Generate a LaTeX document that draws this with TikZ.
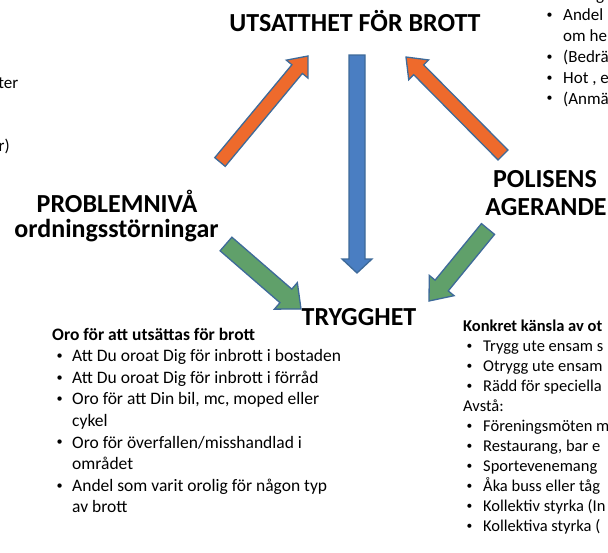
\documentclass[tikz,border=0pt]{standalone}
\usepackage{fontspec}
\usepackage{graphicx}
\setmainfont{Carlito}
\usetikzlibrary{calc}
\definecolor{orangeF}{HTML}{EE6A2C}
\definecolor{blueF}{HTML}{4A7EC2}
\definecolor{greenF}{HTML}{60A06A}
\definecolor{outlineC}{HTML}{3E6A99}
\newcommand\myblockarrow[6]{%
  \coordinate (#2-hb) at ($(#2)!#5!(#1)$);
  \draw[#6] ($(#1)!#3!90:(#2)$) -- ($(#2-hb)!#3!90:(#2)$) -- ($(#2-hb)!#4!90:(#2)$) -- (#2)
    -- ($(#2-hb)!#4!-90:(#2)$) -- ($(#2-hb)!#3!-90:(#2)$) -- ($(#1)!#3!-90:(#2)$) -- cycle;}
\newcommand\bul[1]{\makebox[#1][l]{\hspace{1.5pt}\raisebox{0.12em}{\scalebox{0.7}{•}}}}
\tikzset{
  blk/.style={draw=outlineC, line width=1.3pt, line join=miter},
  headtxt/.style={anchor=base, inner sep=0pt, font=\fontsize{26}{26}\selectfont\bfseries},
  ltxt/.style={anchor=base west, inner sep=0pt, font=\fontsize{17.5}{21}\selectfont},
  rtxt/.style={anchor=base west, inner sep=0pt, font=\fontsize{16.5}{20}\selectfont},
  ttxt/.style={anchor=base west, inner sep=0pt, font=\fontsize{17}{20}\selectfont},
}
\begin{document}
\begin{tikzpicture}[x=1pt,y=1pt]
\fill[white] (0,0) rectangle (608,-552);
\useasboundingbox (0,0) rectangle (608,-552);

% headings
\node[headtxt] (utsatt) at (355,-31.5) {UTSATTHET FÖR BROTT};
\node[headtxt] (prob1) at (117,-212) {PROBLEMNIVÅ};
\node[headtxt] (prob2) at (116.5,-237) {ordningsstörningar};
\node[headtxt] (pol1) at (545,-187) {POLISENS};
\node[headtxt] (pol2) at (546,-215) {AGERANDE};
\node[headtxt] (trygg) at (359,-325) {TRYGGHET};

% arrow end points
\coordinate (bT) at (357,-55);   \coordinate (bP) at (357,-273);
\coordinate (oLT) at (220,-162); \coordinate (oLP) at (308,-56);
\coordinate (oRT) at (503,-155); \coordinate (oRP) at (406,-57);
\coordinate (gLT) at (226,-244); \coordinate (gLP) at (301,-309);
\coordinate (gRT) at (488,-229); \coordinate (gRP) at (429,-301);

\myblockarrow{bT}{bP}{8pt}{15pt}{14pt}{blk, fill=blueF}
\myblockarrow{oLT}{oLP}{6.8pt}{14pt}{17pt}{blk, fill=orangeF}
\myblockarrow{oRT}{oRP}{7pt}{14pt}{18pt}{blk, fill=orangeF}
\myblockarrow{gLT}{gLP}{9pt}{17.5pt}{20pt}{blk, fill=greenF}
\myblockarrow{gRT}{gRP}{8.5pt}{16pt}{20pt}{blk, fill=greenF}

% left edge fragments
\node[ttxt, anchor=base east] (le1) at (18.5,-88.5) {ter};
\node[ttxt, anchor=base east] (le2) at (10,-151) {r)};

% top right list (cut by page edge)
\node[ttxt] (tg) at (596,-0.5) {g};
\node[ttxt] (t1) at (545,-20.5) {\bul{18pt}Andel};
\node[ttxt] (t2) at (563,-41.5) {om he};
\node[ttxt] (t3) at (545,-62.5) {\bul{18pt}(Bedrä};
\node[ttxt] (t4) at (545,-83.5) {\bul{18pt}Hot , e};
\node[ttxt] (t5) at (545,-104) {\bul{18pt}(Anmä};

% left bottom list
\node[ltxt, font=\fontsize{17.5}{21}\selectfont\bfseries] (l0) at (52,-340) {Oro för att utsättas för brott};
\node[ltxt] (l1) at (55,-361.6) {\bul{17pt}Att Du oroat Dig för inbrott i bostaden};
\node[ltxt] (l2) at (55,-383.2) {\bul{17pt}Att Du oroat Dig för inbrott i förråd};
\node[ltxt] (l3) at (55,-404.8) {\bul{17pt}Oro för att Din bil, mc, moped eller};
\node[ltxt] (l4) at (72,-426.4) {cykel};
\node[ltxt] (l5) at (55,-448) {\bul{17pt}Oro för överfallen/misshandlad i};
\node[ltxt] (l6) at (72,-469.6) {området};
\node[ltxt] (l7) at (55,-491.2) {\bul{17pt}Andel som varit orolig för någon typ};
\node[ltxt] (l8) at (72,-512.8) {av brott};

% right bottom list (cut by page edge)
\node[rtxt, font=\fontsize{16.5}{20}\selectfont\bfseries] (r0) at (463,-331) {Konkret känsla av ot};
\node[rtxt] (r1) at (465,-351) {\bul{18pt}Trygg ute ensam s};
\node[rtxt] (r2) at (465,-371) {\bul{18pt}Otrygg ute ensam};
\node[rtxt] (r3) at (465,-391) {\bul{18pt}Rädd för speciella};
\node[rtxt] (r4) at (463,-411) {Avstå:};
\node[rtxt] (r5) at (465,-431) {\bul{18pt}Föreningsmöten m};
\node[rtxt] (r6) at (465,-451) {\bul{18pt}Restaurang, bar e};
\node[rtxt] (r7) at (465,-471) {\bul{18pt}Sportevenemang};
\node[rtxt] (r8) at (465,-491) {\bul{18pt}Åka buss eller tåg};
\node[rtxt] (r9) at (465,-511) {\bul{18pt}Kollektiv styrka (In};
\node[rtxt] (r10) at (465,-531) {\bul{18pt}Kollektiva styrka (};
\end{tikzpicture}
\end{document}
